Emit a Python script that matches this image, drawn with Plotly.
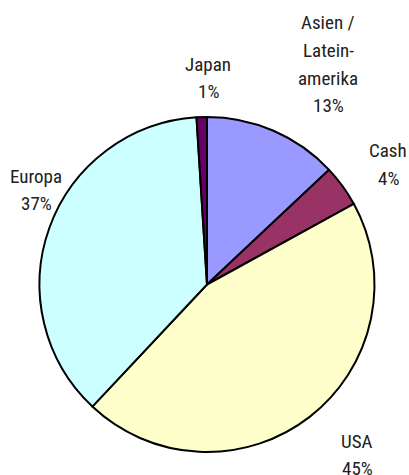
import plotly.graph_objects as go

categories = ["Asien / Lateinamerika", "Cash", "USA", "Europa", "Japan"]
values = [13, 4, 45, 37, 1]
colors = ["#9999FF", "#993366", "#FFFFCC", "#CCFFFF", "#660066"]

# label lines (text) for each slice
label_lines = [
    ["Asien /", "Latein-", "amerika", "13%"],
    ["Cash", "4%"],
    ["USA", "45%"],
    ["Europa", "37%"],
    ["Japan", "1%"],
]
# placement: page-pixel centers of the first line of each label
label_pos = [(328, 23), (388, 151), (357, 441), (36, 176), (208, 64)]
line_step = 27.5

W, H = 409, 475
FONT = "Roboto Condensed, DejaVu Sans Condensed, sans-serif"


def px_x(p):
    return p / W


def px_y(p):
    return 1 - p / H


fig = go.Figure(go.Pie(
    labels=categories,
    values=values,
    sort=False,
    direction="clockwise",
    rotation=0,
    marker=dict(colors=colors, line=dict(color="black", width=2)),
    textinfo="none",
    hoverinfo="label+percent",
    domain=dict(x=[px_x(37), px_x(377)], y=[px_y(452), px_y(117)]),
    showlegend=False,
))

annotations = []
for lines, (px, py) in zip(label_lines, label_pos):
    for i, t in enumerate(lines):
        annotations.append(dict(
            text=t, x=px_x(px), y=px_y(py + i * line_step),
            xref="paper", yref="paper", xanchor="center", yanchor="middle",
            showarrow=False, font=dict(family=FONT, size=19, color="#222222"),
        ))

fig.update_layout(
    width=W, height=H,
    margin=dict(l=0, r=0, t=0, b=0),
    paper_bgcolor="white",
    plot_bgcolor="white",
    annotations=annotations,
)

fig.write_html(
    "out.html",
    config={"displayModeBar": False},
    post_script="document.body.style.margin='0';document.body.style.overflow='hidden';",
)
